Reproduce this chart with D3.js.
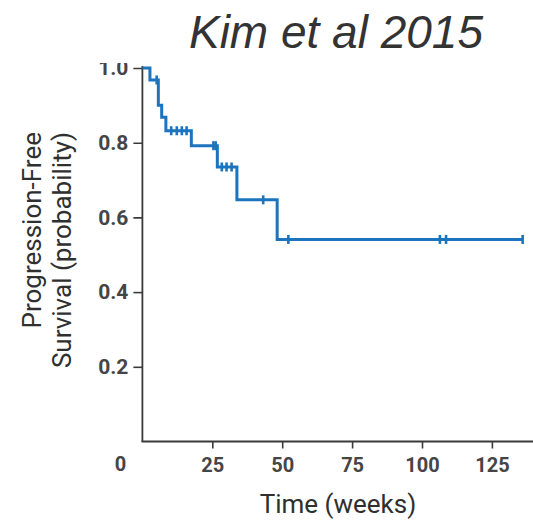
<!DOCTYPE html>
<html>
<head>
<meta charset="utf-8">
<script src="https://cdn.jsdelivr.net/npm/d3@7"></script>
<style>
  html, body { margin: 0; padding: 0; background: #fff; }
  svg { display: block; }
</style>
</head>
<body>
<svg id="chart" width="533" height="522"></svg>
<script>
// ---- data ----
const title = "Kim et al 2015";
const xLabel = "Time (weeks)";
const yLabelLines = ["Progression-Free", "Survival (probability)"];
const xTicks = [0, 25, 50, 75, 100, 125];
const yTicks = [0.2, 0.4, 0.6, 0.8, 1.0];
// Kaplan-Meier step points: time at which survival drops, and new survival level
const stepTimes = [0, 2.7, 5.7, 6.9, 8.4, 17.5, 26.8, 33.8, 48.2];
const stepSurv  = [1.0, 0.968, 0.900, 0.868, 0.832, 0.792, 0.735, 0.647, 0.541];
const endTime = 136;
// censoring marks (weeks)
const censorTimes = [5.1, 10.3, 12.3, 14.1, 15.8, 25.4, 26.2, 28.4, 30.1, 31.9, 43.2, 52.2, 106.4, 108.6, 136];

// ---- layout ----
const svg = d3.select("#chart");
const x = d3.scaleLinear().domain([0, 25]).range([142.4, 212.3]);
const y = d3.scaleLinear().domain([0, 0.2]).range([441.5, 366.8]);
const axisColor = "#3a3a3a";
const textColor = "#2f2f2f";
const tickColor = "#454545";
const lineColor = "#1b74bd";
const font = "Roboto, 'Liberation Sans', Arial, sans-serif";

// title
svg.append("text")
  .attr("x", 336).attr("y", 48)
  .attr("text-anchor", "middle")
  .attr("font-family", "'Liberation Sans', Arial, sans-serif")
  .attr("font-style", "italic")
  .attr("font-size", 46)
  .attr("fill", "#333")
  .text(title);

// clip for the y labels (top of "1.0" is cut in the reference); local coords of the axis group
svg.append("clipPath").attr("id", "yclip")
  .append("rect").attr("x", -200).attr("y", 63).attr("width", 400).attr("height", 459);

// y axis
const yAxis = d3.axisLeft(y).tickValues(yTicks).tickFormat(d3.format(".1f")).tickSize(9).tickPadding(5);
const gy = svg.append("g").attr("transform", `translate(${x(0)},0)`).attr("clip-path", "url(#yclip)").call(yAxis);
gy.select(".domain").remove();
gy.selectAll(".tick line").attr("stroke", axisColor).attr("stroke-width", 1.6);
gy.selectAll(".tick text")
  .attr("font-family", font)
  .attr("font-weight", 700)
  .attr("font-size", 21)
  .attr("fill", tickColor);
svg.append("line")
  .attr("x1", x(0)).attr("x2", x(0))
  .attr("y1", 66).attr("y2", y(0))
  .attr("stroke", axisColor).attr("stroke-width", 1.8);

// x axis
const xAxis = d3.axisBottom(x).tickValues(xTicks.filter(d => d > 0)).tickSize(7).tickPadding(9);
const gx = svg.append("g").attr("transform", `translate(0,${y(0)})`).call(xAxis);
gx.select(".domain").remove();
gx.selectAll(".tick line").attr("stroke", axisColor).attr("stroke-width", 1.6);
gx.selectAll(".tick text")
  .attr("font-family", font)
  .attr("font-weight", 700)
  .attr("font-size", 20)
  .attr("fill", tickColor);
svg.append("line")
  .attr("x1", x(0) - 0.9).attr("x2", 533)
  .attr("y1", y(0)).attr("y2", y(0))
  .attr("stroke", axisColor).attr("stroke-width", 1.8);
// "0" label sits left of the axis corner, no tick
svg.append("text")
  .attr("x", x(0) - 22).attr("y", y(0) + 29)
  .attr("text-anchor", "middle")
  .attr("font-family", font)
  .attr("font-weight", 700)
  .attr("font-size", 20)
  .attr("fill", tickColor)
  .text(xTicks[0]);

// axis labels
svg.append("text")
  .attr("x", 338).attr("y", 513)
  .attr("text-anchor", "middle")
  .attr("font-family", font)
  .attr("font-size", 26)
  .attr("fill", textColor)
  .text(xLabel);
const yl = svg.append("g").attr("font-family", font)
  .attr("font-size", 26).attr("fill", textColor);
yLabelLines.forEach((t, i) => {
  yl.append("text")
    .attr("transform", `translate(${41 + i * 30},132) rotate(-90)`)
    .attr("text-anchor", "end")
    .text(t);
});

// KM step curve
const pts = stepTimes.map((t, i) => [t, stepSurv[i]]);
pts.push([endTime, stepSurv[stepSurv.length - 1]]);
const line = d3.line().x(d => x(d[0])).y(d => y(d[1])).curve(d3.curveStepAfter);
svg.append("path")
  .datum(pts)
  .attr("d", line)
  .attr("fill", "none")
  .attr("stroke", lineColor)
  .attr("stroke-width", 3)
  .attr("stroke-linejoin", "miter");

// survival at a given time (step function)
function survAt(t) {
  let s = stepSurv[0];
  for (let i = 0; i < stepTimes.length; i++) if (stepTimes[i] <= t) s = stepSurv[i];
  return s;
}
svg.append("g").selectAll("line.censor")
  .data(censorTimes)
  .join("line")
  .attr("class", "censor")
  .attr("x1", d => x(d)).attr("x2", d => x(d))
  .attr("y1", d => y(survAt(d)) - 4.5).attr("y2", d => y(survAt(d)) + 4.5)
  .attr("stroke", lineColor)
  .attr("stroke-width", 2.6);
</script>
</body>
</html>
